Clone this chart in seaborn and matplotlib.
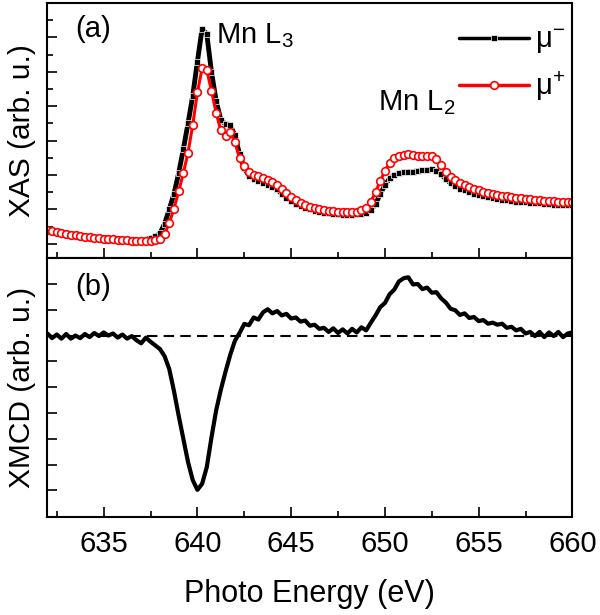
import numpy as np
import matplotlib
matplotlib.use("Agg")
import matplotlib.pyplot as plt
import seaborn as sns

# photon energy grid (eV), 0.25 eV steps from 632 to 660
energy = np.arange(632.0, 660.001, 0.25)

# XAS, mu minus (black squares)
mu_minus = [
    0.41, 0.38, 0.36, 0.33, 0.30, 0.27, 0.25, 0.23, 0.21, 0.20,
    0.18, 0.17, 0.16, 0.15, 0.14, 0.13, 0.12, 0.11, 0.10, 0.10,
    0.10, 0.12, 0.16, 0.21, 0.30, 0.58, 1.00, 1.45, 2.05, 2.75,
    3.50, 4.30, 5.30, 6.25, 6.10, 5.00, 4.15, 3.60, 3.48, 3.45,
    3.15, 2.60, 2.20, 1.98, 1.88, 1.82, 1.78, 1.72, 1.65, 1.58,
    1.45, 1.33, 1.24, 1.16, 1.09, 1.04, 1.00, 0.96, 0.93, 0.90,
    0.88, 0.86, 0.85, 0.84, 0.84, 0.84, 0.85, 0.87, 0.90, 0.98,
    1.15, 1.45, 1.70, 1.90, 2.00, 2.05, 2.08, 2.10, 2.10, 2.12,
    2.13, 2.15, 2.17, 2.12, 2.02, 1.88, 1.76, 1.67, 1.60, 1.55,
    1.51, 1.46, 1.42, 1.38, 1.35, 1.32, 1.30, 1.28, 1.26, 1.24,
    1.22, 1.21, 1.20, 1.19, 1.18, 1.17, 1.16, 1.15, 1.14, 1.13,
    1.13, 1.12, 1.12,
]

# XAS, mu plus (red open circles)
mu_plus = [
    0.40, 0.37, 0.35, 0.32, 0.29, 0.26, 0.24, 0.22, 0.20, 0.19,
    0.17, 0.16, 0.15, 0.14, 0.13, 0.12, 0.11, 0.10, 0.09, 0.08,
    0.08, 0.08, 0.09, 0.11, 0.14, 0.28, 0.60, 1.02, 1.52, 2.05,
    2.65, 3.45, 4.40, 5.10, 5.05, 4.45, 3.80, 3.30, 3.12, 3.25,
    2.95, 2.50, 2.25, 2.08, 2.00, 1.96, 1.92, 1.86, 1.80, 1.72,
    1.60, 1.47, 1.36, 1.27, 1.19, 1.13, 1.08, 1.04, 1.01, 0.98,
    0.96, 0.94, 0.92, 0.91, 0.91, 0.91, 0.93, 0.97, 1.05, 1.22,
    1.50, 1.82, 2.12, 2.35, 2.48, 2.55, 2.58, 2.60, 2.57, 2.54,
    2.54, 2.55, 2.55, 2.45, 2.30, 2.10, 1.95, 1.84, 1.76, 1.70,
    1.65, 1.60, 1.55, 1.51, 1.48, 1.45, 1.42, 1.40, 1.38, 1.36,
    1.34, 1.32, 1.31, 1.29, 1.28, 1.27, 1.25, 1.24, 1.23, 1.22,
    1.21, 1.20, 1.20,
]

# XMCD difference signal (noisy)
xmcd = [
    0.08, -0.10, 0.04, -0.12, 0.06, -0.12, 0.00, -0.10, 0.06, -0.06,
    0.10, -0.02, 0.12, 0.00, 0.08, -0.08, 0.04, -0.12, -0.02, -0.18,
    -0.30, -0.08, -0.24, -0.38, -0.52, -0.80, -1.30, -2.15, -3.10, -4.00,
    -4.90, -5.60, -5.98, -5.75, -5.10, -3.95, -2.90, -2.10, -1.40, -0.75,
    -0.20, 0.10, 0.45, 0.40, 0.70, 0.62, 0.90, 1.02, 0.86, 0.95,
    0.78, 0.84, 0.66, 0.70, 0.54, 0.58, 0.38, 0.42, 0.26, 0.30,
    0.14, 0.28, 0.10, 0.24, 0.08, 0.26, 0.12, 0.32, 0.20, 0.50,
    0.78, 1.10, 1.26, 1.60, 1.78, 2.10, 2.22, 2.26, 1.98, 2.00,
    1.80, 1.86, 1.66, 1.68, 1.44, 1.28, 1.04, 0.98, 0.80, 0.86,
    0.68, 0.72, 0.56, 0.60, 0.46, 0.50, 0.42, 0.46, 0.30, 0.34,
    0.20, 0.26, 0.08, 0.14, -0.02, 0.14, -0.06, 0.12, -0.02, 0.14,
    -0.06, 0.08, 0.12,
]

sns.set_style("ticks")
plt.rcParams['font.family'] = ['Liberation Sans', 'DejaVu Sans']
plt.rcParams['mathtext.fontset'] = 'custom'
plt.rcParams['mathtext.rm'] = 'Liberation Sans'
plt.rcParams['mathtext.it'] = 'Liberation Sans'
for key in ['text.color', 'axes.labelcolor', 'xtick.color', 'ytick.color', 'axes.edgecolor']:
    plt.rcParams[key] = 'black'

fig, (ax1, ax2) = plt.subplots(2, 1, figsize=(6, 6.15), dpi=100, sharex=True,
                               gridspec_kw={'height_ratios': [255, 259], 'hspace': 0})
fig.subplots_adjust(left=0.079, right=0.954, top=0.995, bottom=0.159)

# (a) XAS
sns.lineplot(x=energy, y=mu_minus, ax=ax1, color='black', lw=3.5,
             marker='s', markersize=5, markeredgewidth=0.5, label='μ$^{-}$')
sns.lineplot(x=energy, y=mu_plus, ax=ax1, color='red', lw=2.2,
             marker='o', markersize=5.5, markerfacecolor='white',
             markeredgecolor='red', markeredgewidth=1.2, label='μ$^{+}$')
ax1.set_ylim(-0.42, 7.0)
ax1.set_yticks(np.arange(0, 7, 1))
ax1.set_yticks(np.arange(0.5, 7, 1), minor=True)
ax1.set_ylabel('XAS (arb. u.)', fontsize=21.5, labelpad=8)
ax1.text(633.5, 6.26, '(a)', fontsize=21, va='center')
ax1.text(641.0, 5.83, 'Mn L$_3$', fontsize=21, va='baseline')
ax1.text(649.65, 3.87, 'Mn L$_2$', fontsize=21, va='baseline')
leg = ax1.legend(loc='upper right', bbox_to_anchor=(1.025, 0.99), frameon=False,
                 fontsize=21, handlelength=2.4, handletextpad=0.2, labelspacing=0.45,
                 borderpad=0.2)
for h in leg.legend_handles:
    h.set_linewidth(2.5)

# (b) XMCD
ax2.axhline(0, color='black', lw=1.5, linestyle=(0, (5, 3)))
sns.lineplot(x=energy, y=xmcd, ax=ax2, color='black', lw=3)
ax2.set_ylim(-7.04, 3.0)
ax2.set_yticks(np.arange(-6, 3, 1))
ax2.set_ylabel('XMCD (arb. u.)', fontsize=21.5, labelpad=8)
ax2.text(633.5, 1.9, '(b)', fontsize=21, va='center')

ax2.set_xlim(632, 660)
ax2.set_xticks(np.arange(635, 661, 5))
ax2.set_xticks(np.arange(632.5, 660, 5), minor=True)
ax2.set_xlabel('Photo Energy (eV)', fontsize=22, labelpad=15)

for ax in (ax1, ax2):
    ax.tick_params(axis='both', which='major', direction='in', length=7, width=1.2,
                   top=False, right=False, labelsize=21, pad=9)
    ax.tick_params(axis='both', which='minor', direction='in', length=4, width=1.2,
                   top=False, right=False)
    ax.tick_params(axis='y', which='both', labelleft=False)
    for s in ax.spines.values():
        s.set_visible(True)
        s.set_linewidth(1.5)

fig.savefig('out.png', dpi=100)
